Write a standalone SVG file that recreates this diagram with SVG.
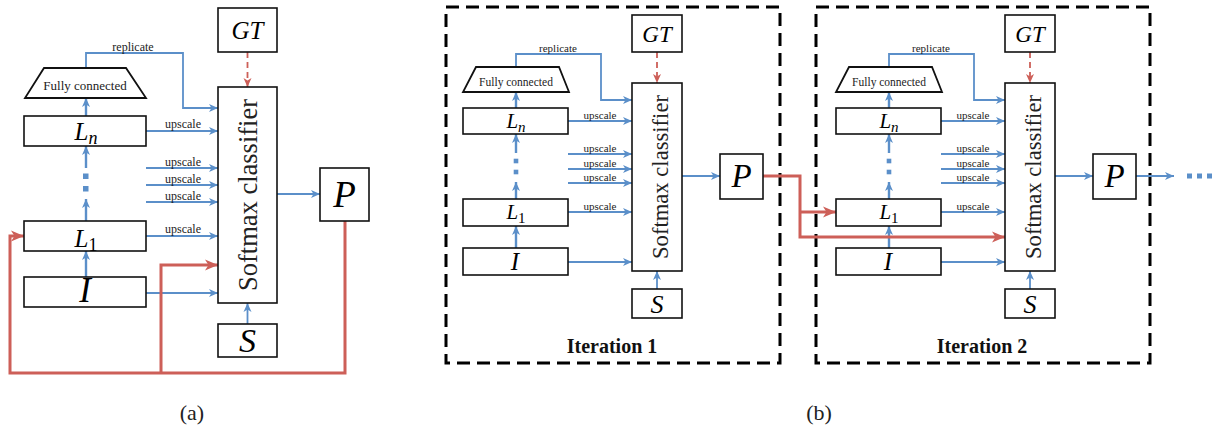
<svg xmlns="http://www.w3.org/2000/svg" width="1214" height="436" viewBox="0 0 1214 436">
<style>
.box{fill:#fff;stroke:#111;stroke-width:1.6}
.trap{fill:#fff;stroke:#111;stroke-width:1.8}
.dash{fill:none;stroke:#000;stroke-width:3;stroke-dasharray:13 7}
.b{fill:none;stroke:#5b8fc9;stroke-width:1.8}
.bv{fill:none;stroke:#5b8fc9;stroke-width:2.4}
.r{fill:none;stroke:#cd5f58;stroke-width:3}
.rd{fill:none;stroke:#cd5f58;stroke-width:1.8;stroke-dasharray:6 4}
.dot{fill:#5b8fc9}
.m{font-family:'Liberation Serif','Times New Roman','DejaVu Serif',serif;font-style:italic;text-anchor:middle;fill:#000}
.t{font-family:'Liberation Serif','Times New Roman','DejaVu Serif',serif;text-anchor:middle;fill:#222}
.it{font-family:'Liberation Serif','Times New Roman','DejaVu Serif',serif;font-weight:bold;text-anchor:middle;font-size:20px;fill:#111}
</style>
<defs>
<marker id="ab" markerUnits="userSpaceOnUse" markerWidth="10" markerHeight="10" refX="9" refY="5" orient="auto">
<path d="M0,1 L9,5 L0,9 L2.5,5 z" fill="#5b8fc9"/>
</marker>
<marker id="ar" markerUnits="userSpaceOnUse" markerWidth="14" markerHeight="14" refX="13" refY="7" orient="auto">
<path d="M0,1.5 L13,7 L0,12.5 L3.5,7 z" fill="#cd5f58"/>
</marker>
<marker id="ars" markerUnits="userSpaceOnUse" markerWidth="10" markerHeight="10" refX="9" refY="5" orient="auto">
<path d="M0,1 L9,5 L0,9 L2.5,5 z" fill="#cd5f58"/>
</marker>
</defs>

<!-- Panel (a) -->
<g id="a-connectors">
<path class="b" d="M86,68 V53 H183 V108 H218" marker-end="url(#ab)"/>
<path class="b" d="M146,131 H218" marker-end="url(#ab)"/>
<path class="b" d="M146,168 H218" marker-end="url(#ab)"/>
<path class="b" d="M146,185 H218" marker-end="url(#ab)"/>
<path class="b" d="M146,202 H218" marker-end="url(#ab)"/>
<path class="b" d="M146,236 H218" marker-end="url(#ab)"/>
<path class="b" d="M146,293 H218" marker-end="url(#ab)"/>
<path class="b" d="M247.5,324 V303" marker-end="url(#ab)"/>
<path class="rd" d="M247.5,52 V87" marker-end="url(#ars)"/>
<path class="b" d="M277,194 H320" marker-end="url(#ab)"/>
<path class="bv" d="M86,277 V251" marker-end="url(#ab)"/>
<path class="bv" d="M86,221 V199" marker-end="url(#ab)"/>
<path class="bv" d="M86,168 V146" marker-end="url(#ab)"/>
<path class="bv" d="M86,116 V98" marker-end="url(#ab)"/>
<rect class="dot" x="83" y="173.5" width="5.5" height="5.5"/>
<rect class="dot" x="83" y="186" width="5.5" height="5.5"/>
<path class="r" d="M345,221 V373 H10 V236 H24" marker-end="url(#ar)"/>
<path class="r" d="M161,373 V265 H218" marker-end="url(#ar)"/>
<g class="t" font-size="12">
<text x="133" y="51">replicate</text>
<text x="183" y="128">upscale</text>
<text x="183" y="165.5">upscale</text>
<text x="183" y="182.5">upscale</text>
<text x="183" y="199.5">upscale</text>
<text x="183" y="233">upscale</text>
</g>
</g>
<g id="a-GT"><rect class="box" x="218" y="8" width="59" height="44"/><text class="m" x="247.5" y="39" font-size="25">GT</text></g>
<g id="a-softmax"><rect class="box" x="218" y="87" width="59" height="216"/><text class="t" transform="translate(257,195) rotate(-90)" font-size="27" textLength="192" lengthAdjust="spacingAndGlyphs" fill="#000">Softmax classifier</text></g>
<g id="a-S"><rect class="box" x="218" y="324" width="59" height="33"/><text class="m" x="247.5" y="352" font-size="34">S</text></g>
<g id="a-P"><rect class="box" x="320" y="168" width="49" height="53"/><text class="m" x="344.5" y="207" font-size="37">P</text></g>
<g id="a-FC"><polygon class="trap" points="44,68 126,68 146,98 25,98"/><text class="t" x="85" y="90" font-size="13">Fully connected</text></g>
<g id="a-Ln"><rect class="box" x="24" y="116" width="122" height="30"/><text class="m" x="86" y="140" font-size="25">L<tspan font-size="18" dy="4">n</tspan></text></g>
<g id="a-L1"><rect class="box" x="24" y="221" width="122" height="30"/><text class="m" x="86" y="247" font-size="25">L<tspan font-size="18" dy="4" font-style="normal">1</tspan></text></g>
<g id="a-I"><rect class="box" x="24" y="277" width="122" height="30"/><text class="m" x="85" y="302" font-size="35">I</text></g>
<text class="t" x="192" y="420" font-size="22" fill="#000">(a)</text>

<!-- Panel (b) -->
<rect id="iter1-frame" class="dash" x="446" y="7" width="334" height="356"/>
<rect id="iter2-frame" class="dash" x="816" y="7" width="334" height="356"/>

<g id="b-connectors">
<!-- iteration 1 -->
<path class="b" d="M516,67 V54 H601 V100 H632" marker-end="url(#ab)"/>
<path class="b" d="M568,121 H632" marker-end="url(#ab)"/>
<path class="b" d="M568,154 H632" marker-end="url(#ab)"/>
<path class="b" d="M568,169 H632" marker-end="url(#ab)"/>
<path class="b" d="M568,183 H632" marker-end="url(#ab)"/>
<path class="b" d="M568,212 H632" marker-end="url(#ab)"/>
<path class="b" d="M568,262 H632" marker-end="url(#ab)"/>
<path class="b" d="M657,289 V271" marker-end="url(#ab)"/>
<path class="rd" d="M657,52 V83" marker-end="url(#ars)"/>
<path class="b" d="M682,176 H720" marker-end="url(#ab)"/>
<path class="bv" d="M516,248 V226" marker-end="url(#ab)"/>
<path class="bv" d="M516,199 V182" marker-end="url(#ab)"/>
<path class="bv" d="M516,153 V134" marker-end="url(#ab)"/>
<path class="bv" d="M516,108 V92" marker-end="url(#ab)"/>
<rect class="dot" x="513.7" y="158.7" width="4.6" height="4.6"/>
<rect class="dot" x="513.7" y="169.7" width="4.6" height="4.6"/>
<g class="t" font-size="11">
<text x="558" y="52">replicate</text>
<text x="600" y="118.5">upscale</text>
<text x="600" y="151.5">upscale</text>
<text x="600" y="166.5">upscale</text>
<text x="600" y="180.5">upscale</text>
<text x="600" y="209.5">upscale</text>
</g>
<!-- iteration 2 -->
<path class="b" d="M889,67 V54 H974 V100 H1005" marker-end="url(#ab)"/>
<path class="b" d="M941,121 H1005" marker-end="url(#ab)"/>
<path class="b" d="M941,154 H1005" marker-end="url(#ab)"/>
<path class="b" d="M941,169 H1005" marker-end="url(#ab)"/>
<path class="b" d="M941,183 H1005" marker-end="url(#ab)"/>
<path class="b" d="M941,212 H1005" marker-end="url(#ab)"/>
<path class="b" d="M941,262 H1005" marker-end="url(#ab)"/>
<path class="b" d="M1030,289 V271" marker-end="url(#ab)"/>
<path class="rd" d="M1030,52 V83" marker-end="url(#ars)"/>
<path class="b" d="M1055,176 H1093" marker-end="url(#ab)"/>
<path class="bv" d="M889,248 V226" marker-end="url(#ab)"/>
<path class="bv" d="M889,199 V182" marker-end="url(#ab)"/>
<path class="bv" d="M889,153 V134" marker-end="url(#ab)"/>
<path class="bv" d="M889,108 V92" marker-end="url(#ab)"/>
<rect class="dot" x="886.7" y="158.7" width="4.6" height="4.6"/>
<rect class="dot" x="886.7" y="169.7" width="4.6" height="4.6"/>
<g class="t" font-size="11">
<text x="931" y="52">replicate</text>
<text x="973" y="118.5">upscale</text>
<text x="973" y="151.5">upscale</text>
<text x="973" y="166.5">upscale</text>
<text x="973" y="180.5">upscale</text>
<text x="973" y="209.5">upscale</text>
</g>
<path class="b" d="M1136,176 H1174" marker-end="url(#ab)"/>
<rect class="dot" x="1187" y="173.5" width="5" height="5"/>
<rect class="dot" x="1197" y="173.5" width="5" height="5"/>
<rect class="dot" x="1207" y="173.5" width="5" height="5"/>
<!-- red feedback between iterations -->
<path class="r" d="M763,176 H800 V237 H1005" marker-end="url(#ar)"/>
<path class="r" d="M800,212 H836" marker-end="url(#ar)"/>
</g>

<g id="b1-GT"><rect class="box" x="632" y="15" width="50" height="37"/><text class="m" x="657" y="42" font-size="23">GT</text></g>
<g id="b1-softmax"><rect class="box" x="632" y="83" width="50" height="188"/><text class="t" transform="translate(668,177) rotate(-90)" font-size="23" textLength="164" lengthAdjust="spacingAndGlyphs" fill="#000">Softmax classifier</text></g>
<g id="b1-S"><rect class="box" x="632" y="289" width="50" height="29"/><text class="m" x="657" y="313" font-size="26">S</text></g>
<g id="b1-P"><rect class="box" x="720" y="154" width="43" height="45"/><text class="m" x="741.5" y="187" font-size="33">P</text></g>
<g id="b1-FC"><polygon class="trap" points="476,67 559,67 569,92 463,92"/><text class="t" x="516" y="86" font-size="11.5">Fully connected</text></g>
<g id="b1-Ln"><rect class="box" x="463" y="108" width="105" height="26"/><text class="m" x="516" y="128" font-size="21">L<tspan font-size="15" dy="3.5">n</tspan></text></g>
<g id="b1-L1"><rect class="box" x="463" y="199" width="105" height="27"/><text class="m" x="516" y="219" font-size="21">L<tspan font-size="15" dy="3.5" font-style="normal">1</tspan></text></g>
<g id="b1-I"><rect class="box" x="463" y="248" width="105" height="27"/><text class="m" x="515" y="270" font-size="25">I</text></g>
<text id="iter1-label" class="it" x="612" y="353">Iteration 1</text>

<g id="b2-GT"><rect class="box" x="1005" y="15" width="50" height="37"/><text class="m" x="1030" y="42" font-size="23">GT</text></g>
<g id="b2-softmax"><rect class="box" x="1005" y="83" width="50" height="188"/><text class="t" transform="translate(1041,177) rotate(-90)" font-size="23" textLength="164" lengthAdjust="spacingAndGlyphs" fill="#000">Softmax classifier</text></g>
<g id="b2-S"><rect class="box" x="1005" y="289" width="50" height="29"/><text class="m" x="1030" y="313" font-size="26">S</text></g>
<g id="b2-P"><rect class="box" x="1093" y="154" width="43" height="45"/><text class="m" x="1114.5" y="187" font-size="33">P</text></g>
<g id="b2-FC"><polygon class="trap" points="849,67 932,67 942,92 836,92"/><text class="t" x="889" y="86" font-size="11.5">Fully connected</text></g>
<g id="b2-Ln"><rect class="box" x="836" y="108" width="105" height="26"/><text class="m" x="889" y="128" font-size="21">L<tspan font-size="15" dy="3.5">n</tspan></text></g>
<g id="b2-L1"><rect class="box" x="836" y="199" width="105" height="27"/><text class="m" x="889" y="219" font-size="21">L<tspan font-size="15" dy="3.5" font-style="normal">1</tspan></text></g>
<g id="b2-I"><rect class="box" x="836" y="248" width="105" height="27"/><text class="m" x="888" y="270" font-size="25">I</text></g>
<text id="iter2-label" class="it" x="982" y="353">Iteration 2</text>

<text class="t" x="819" y="420" font-size="22" fill="#000">(b)</text>
</svg>
